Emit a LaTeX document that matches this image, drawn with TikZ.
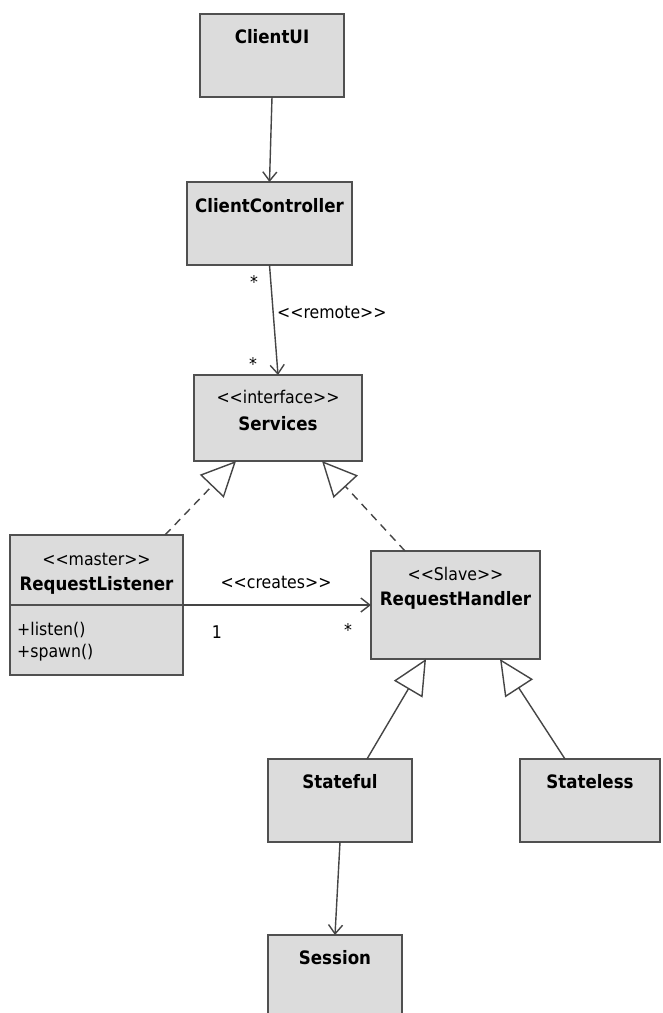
\documentclass[tikz,border=0pt]{standalone}
\usepackage{fontspec}
\setmainfont{DejaVu Sans Condensed}[Ligatures=TeXOff]
\usetikzlibrary{arrows.meta,calc}
\definecolor{boxfill}{HTML}{DCDCDC}
\definecolor{boxline}{HTML}{505050}
\definecolor{conn}{HTML}{454545}
\begin{document}
\begin{tikzpicture}[x=1pt,y=-1pt,
 cls/.style={draw=boxline,fill=boxfill,line width=2pt,inner sep=0pt,outer sep=0pt,anchor=north west},
 cname/.style={font=\fontsize{18.5}{20}\selectfont\bfseries,inner sep=0pt,anchor=base},
 stereo/.style={font=\fontsize{17.5}{20}\selectfont,inner sep=0pt,anchor=base},
 lbl/.style={font=\fontsize{17.5}{20}\selectfont,inner sep=0pt},
 assoc/.style={draw=conn,line width=1.4pt,-{Straight Barb[length=9pt,width=14pt,line width=1.4pt]}},
 gen/.style={draw=conn,line width=1.4pt,-{Triangle[open,length=35pt,width=33pt,fill=white,line width=1.4pt]}},
 real/.style={gen,dash pattern=on 8pt off 6pt},
]
\useasboundingbox (0,0) rectangle (662,1013);
\clip (0,0) rectangle (662,1013);
\fill[white] (0,0) rectangle (662,1013);
% classes
\node[cls,minimum width=144pt,minimum height=83pt] (cui) at (200,14) {};
\node[cls,minimum width=165pt,minimum height=83pt] (cc) at (187,182) {};
\node[cls,minimum width=168pt,minimum height=86pt] (svc) at (194,375) {};
\node[cls,minimum width=173pt,minimum height=140pt] (rl) at (10,535) {};
\node[cls,minimum width=169pt,minimum height=108pt] (rh) at (371,551) {};
\node[cls,minimum width=144pt,minimum height=83pt] (sf) at (268,759) {};
\node[cls,minimum width=140pt,minimum height=83pt] (sl) at (520,759) {};
\node[cls,minimum width=134pt,minimum height=110pt] (ses) at (268,935) {};
\draw[boxline,line width=2pt] ($(rl.north west)+(0,70)$) -- ($(rl.north east)+(0,70)$);
% class texts
\node[cname] (cuiT) at ($(cui.north)+(0,29)$) {ClientUI};
\node[cname] (ccT) at ($(cc.north)+(0,30)$) {ClientController};
\node[stereo] (svcS) at ($(svc.north)+(0,28)$) {<<interface>>};
\node[cname] (svcT) at ($(svc.north)+(0,55)$) {Services};
\node[stereo] (rlS) at ($(rl.north)+(0,30)$) {<<master>>};
\node[cname] (rlT) at ($(rl.north)+(0,55)$) {RequestListener};
\node[stereo,anchor=base west] (rlM1) at ($(rl.north west)+(7,100)$) {+listen()};
\node[stereo,anchor=base west] (rlM2) at ($(rl.north west)+(7,122)$) {+spawn()};
\node[stereo] (rhS) at ($(rh.north)+(0,29)$) {<<Slave>>};
\node[cname] (rhT) at ($(rh.north)+(0,54)$) {RequestHandler};
\node[cname] (sfT) at ($(sf.north)+(0,29)$) {Stateful};
\node[cname] (slT) at ($(sl.north)+(0,29)$) {Stateless};
\node[cname] (sesT) at ($(ses.north)+(0,29)$) {Session};
% connectors
\draw[assoc] (cui.south) -- (cc.north);
\draw[assoc] (cc.south) -- (svc.north);
\draw[assoc] (rl.east) -- (rh.west);
\draw[assoc] (sf.south) -- (ses.north);
\draw[real] ($(rl.north east)+(-18,0)$) -- ($(svc.south west)+(42,0)$);
\draw[real] ($(rh.north west)+(34,0)$) -- ($(svc.south west)+(128,0)$);
\draw[gen] ($(sf.north west)+(99,0)$) -- ($(rh.south west)+(55,0)$);
\draw[gen] ($(sl.north west)+(45,0)$) -- ($(rh.south west)+(129,0)$);
% connector labels
\node[lbl,anchor=north] (m1) at (254,275) {*};
\node[lbl,anchor=north] (m2) at (253,357) {*};
\node[lbl,anchor=base west] (rem) at (277,318) {<<remote>>};
\node[lbl,anchor=base] (cre) at (276,588) {<<creates>>};
\node[lbl,anchor=base] (one) at (217,638) {1};
\node[lbl,anchor=north] (m3) at (348,623) {*};
\end{tikzpicture}
\end{document}
